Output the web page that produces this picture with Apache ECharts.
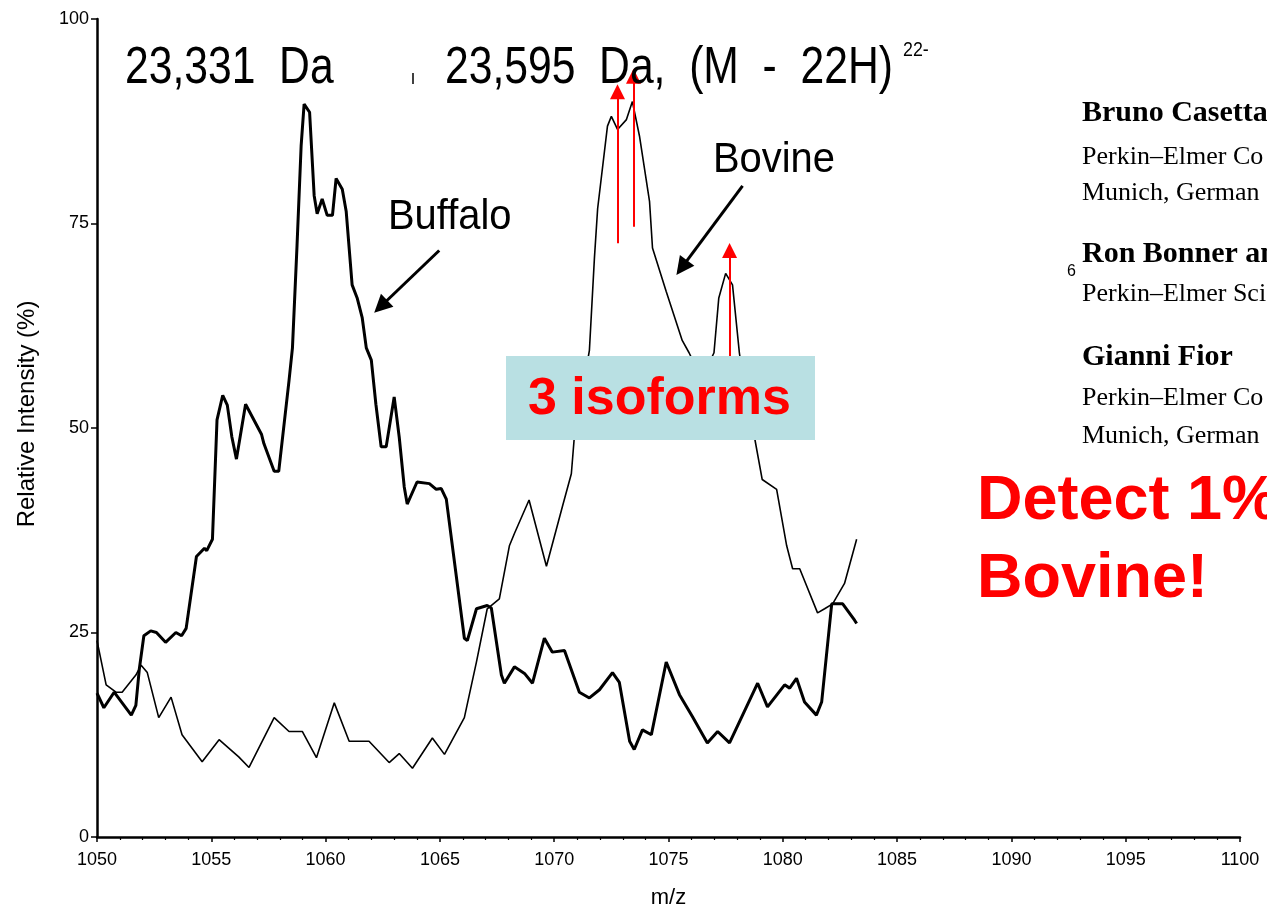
<!DOCTYPE html>
<html><head><meta charset="utf-8">
<script src="https://cdn.jsdelivr.net/npm/echarts@6/dist/echarts.min.js"></script>
<style>html,body{margin:0;padding:0;background:#fff}#c{width:1267px;height:914px}</style>
</head><body><div id="c"></div>
<script>
// ---- data ----
const buffaloMz = [1050.0,1050.3,1050.75,1051.5,1051.7,1051.85,1052.05,1052.35,1052.6,1053.0,1053.45,1053.7,1053.9,1054.35,1054.7,1054.8,1055.05,1055.25,1055.5,1055.7,1055.9,1056.1,1056.5,1057.2,1057.3,1057.75,1057.95,1058.4,1058.55,1058.75,1058.93,1059.06,1059.3,1059.5,1059.63,1059.85,1060.07,1060.3,1060.46,1060.73,1060.9,1061.16,1061.38,1061.6,1061.78,1062.0,1062.2,1062.43,1062.65,1063.0,1063.22,1063.44,1063.57,1064.0,1064.54,1064.84,1065.06,1065.28,1066.07,1066.2,1066.6,1067.07,1067.25,1067.69,1067.82,1068.26,1068.7,1069.05,1069.57,1069.92,1070.45,1071.1,1071.54,1071.98,1072.55,1072.85,1073.3,1073.5,1073.86,1074.25,1074.9,1075.48,1076.05,1076.7,1077.15,1077.67,1078.9,1079.33,1080.08,1080.3,1080.6,1080.95,1081.47,1081.7,1082.14,1082.62,1083.14,1083.23];
const buffaloInt = [17.6,15.8,17.7,14.9,16.1,20.5,24.6,25.2,25.0,23.8,25.0,24.6,25.5,34.3,35.3,35.0,36.4,51.0,54.0,52.8,48.9,46.2,52.9,49.2,48.1,44.7,44.7,55.8,59.8,72.3,84.5,89.6,88.6,78.4,76.2,78.0,76.0,76.0,80.5,79.2,76.5,67.5,65.9,63.5,59.8,58.3,52.9,47.7,47.7,53.8,48.9,42.8,40.7,43.4,43.2,42.5,42.6,41.3,24.3,24.0,27.9,28.3,28.0,19.8,18.8,20.8,20.0,18.8,24.3,22.6,22.8,17.7,17.0,18.0,20.1,18.9,11.7,10.7,13.1,12.5,21.4,17.4,14.7,11.5,12.9,11.5,18.8,15.9,18.6,18.2,19.4,16.5,14.9,16.5,28.5,28.5,26.5,26.1];
const bovineMz = [1050.0,1050.4,1050.83,1051.1,1051.7,1051.93,1052.2,1052.7,1053.24,1053.72,1054.6,1055.34,1056.2,1056.65,1057.75,1058.4,1058.98,1059.6,1060.38,1061.03,1061.9,1062.78,1063.22,1063.8,1064.67,1065.2,1066.07,1066.6,1067.07,1067.6,1068.04,1068.26,1068.9,1069.66,1070.36,1070.75,1070.88,1071.54,1071.76,1071.9,1072.33,1072.5,1072.77,1073.16,1073.42,1073.73,1074.17,1074.3,1074.9,1075.6,1075.9,1076.45,1076.99,1077.2,1077.5,1077.8,1078.1,1078.46,1078.76,1079.1,1079.73,1080.17,1080.43,1080.74,1081.52,1081.83,1082.18,1082.7,1083.23];
const bovineInt = [24.0,18.6,17.7,17.7,19.8,21.0,20.1,14.6,17.1,12.5,9.2,11.9,9.8,8.5,14.6,12.9,12.9,9.7,16.4,11.7,11.7,9.1,10.2,8.4,12.1,10.1,14.6,21.4,27.9,29.1,35.6,37.1,41.2,33.1,40.4,44.4,48.9,59.5,70.8,76.8,86.9,88.1,86.5,87.7,89.9,85.7,77.7,72.0,66.7,60.7,59.2,56.0,59.2,65.9,68.9,67.5,59.2,52.0,48.9,43.7,42.5,35.6,32.8,32.8,27.4,27.9,28.5,31.0,36.4];
const xTickLabels = [1050,1055,1060,1065,1070,1075,1080,1085,1090,1095,1100];
const yTickLabels = [0,25,50,75,100];
// isoform arrows: [m/z, from %, to %]
const isoformArrows = [[1072.77,72.6,91.1],[1073.47,74.6,93.0],[1077.67,54.6,71.7]];
// pointer arrows: [[from m/z, from %],[to m/z, to %]]
const buffaloArrow = [[1064.97,71.7],[1062.41,64.85]];
const bovineArrow = [[1078.24,79.6],[1075.58,69.6]];

const zip = (a,b) => a.map((v,i)=>[v,b[i]]);
const SANS = '"Liberation Sans", Arial, sans-serif';
const SERIF = '"Liberation Serif", "Times New Roman", serif';

function T(x, y, text, font, fill, extra) {
  return Object.assign({type:'text', x:x, y:y, z:50, silent:true,
    style:{text:text, font:font, fill:fill||'#000', textAlign:'left', textVerticalAlign:'middle', align:'left', verticalAlign:'middle'}}, extra||{});
}

const chart = echarts.init(document.getElementById('c'), null, {renderer:'canvas'});
chart.setOption({
  backgroundColor:'#fff',
  animation:false,
  grid:{left:97, right:27, top:19, bottom:71, containLabel:false},
  xAxis:{type:'value', min:xTickLabels[0], max:xTickLabels[xTickLabels.length-1], interval:xTickLabels[1]-xTickLabels[0],
    name:'m/z', nameLocation:'middle', nameGap:50, nameTextStyle:{fontSize:22, color:'#000', fontFamily:SANS},
    axisLine:{onZero:false, lineStyle:{color:'#000', width:2.5}},
    axisTick:{show:true, length:5, lineStyle:{color:'#000', width:1.5}},
    minorTick:{show:true, splitNumber:5, length:3, lineStyle:{color:'#000', width:1.2}},
    axisLabel:{fontSize:18, color:'#000', margin:14, fontFamily:SANS, formatter:v=>String(v)},
    splitLine:{show:false}},
  yAxis:{type:'value', min:yTickLabels[0], max:yTickLabels[yTickLabels.length-1], interval:yTickLabels[1]-yTickLabels[0],
    name:'Relative Intensity (%)', nameLocation:'middle', nameGap:58, nameRotate:90,
    nameTextStyle:{fontSize:24, color:'#000', fontFamily:SANS, padding:[0,0,0,28]},
    axisLine:{show:true, onZero:false, lineStyle:{color:'#000', width:2.5}},
    axisTick:{show:true, length:6, lineStyle:{color:'#000', width:1.5}},
    axisLabel:{fontSize:18, color:'#000', margin:8, fontFamily:SANS, formatter:v=>String(v)},
    splitLine:{show:false}},
  series:[
    {name:'Bovine', type:'line', data:zip(bovineMz,bovineInt), showSymbol:false, symbol:'none',
      lineStyle:{color:'#000', width:1.6}, z:2, silent:true},
    {name:'Buffalo', type:'line', data:zip(buffaloMz,buffaloInt), showSymbol:false, symbol:'none',
      lineStyle:{color:'#000', width:3}, z:3, silent:true},
    {name:'isoforms', type:'line', data:[], z:20, silent:true,
      markLine:{silent:true, symbol:['none','triangle'], symbolSize:15, label:{show:false},
        itemStyle:{color:'#ff0000'},
        lineStyle:{color:'#ff0000', width:2, type:'solid'}, emphasis:{disabled:true},
        data:isoformArrows.map(a=>[{coord:[a[0],a[1]]},{coord:[a[0],a[2]]}])}},
    {name:'pointers', type:'line', data:[], z:20, silent:true,
      markLine:{silent:true, symbol:['none','triangle'], symbolSize:18, label:{show:false},
        itemStyle:{color:'#000'},
        lineStyle:{color:'#000', width:3, type:'solid'}, emphasis:{disabled:true},
        data:[buffaloArrow, bovineArrow].map(a=>[{coord:a[0]},{coord:a[1]}])}}
  ],
  graphic:{elements:[
    {type:'rect', z:10, silent:true, shape:{x:506, y:356, width:309, height:84}, style:{fill:'#B9E0E3'}},
    T(125, 69, '23,331  Da', '52px '+SANS, '#000', {scaleX:0.82}),
    T(445, 69, '23,595  Da,  (M  -  22H)', '52px '+SANS, '#000', {scaleX:0.82}),
    T(903, 50, '22-', '21px '+SANS, '#000', {scaleX:0.85}),
    {type:'line', z:50, silent:true, shape:{x1:413, y1:73, x2:413, y2:84}, style:{stroke:'#000', lineWidth:1.5}},
    T(388, 217, 'Buffalo', '42px '+SANS, '#000', {scaleX:0.95}),
    T(713, 160, 'Bovine', '42px '+SANS, '#000', {scaleX:0.95}),
    T(528, 400, '3 isoforms', 'bold 52px '+SANS, '#FF0000'),
    T(977, 502, 'Detect 1%', 'bold 63px '+SANS, '#FF0000'),
    T(977, 580, 'Bovine!', 'bold 63px '+SANS, '#FF0000'),
    T(1082, 113, 'Bruno Casetta', 'bold 30px '+SERIF),
    T(1082, 157, 'Perkin–Elmer Co', '26px '+SERIF),
    T(1082, 193, 'Munich, German', '26px '+SERIF),
    T(1067, 272, '6', '16px '+SANS),
    T(1082, 254, 'Ron Bonner an', 'bold 30px '+SERIF),
    T(1082, 294, 'Perkin–Elmer Sci', '26px '+SERIF),
    T(1082, 357, 'Gianni Fior', 'bold 30px '+SERIF),
    T(1082, 398, 'Perkin–Elmer Co', '26px '+SERIF),
    T(1082, 436, 'Munich, German', '26px '+SERIF)
  ]}
});
</script></body></html>
